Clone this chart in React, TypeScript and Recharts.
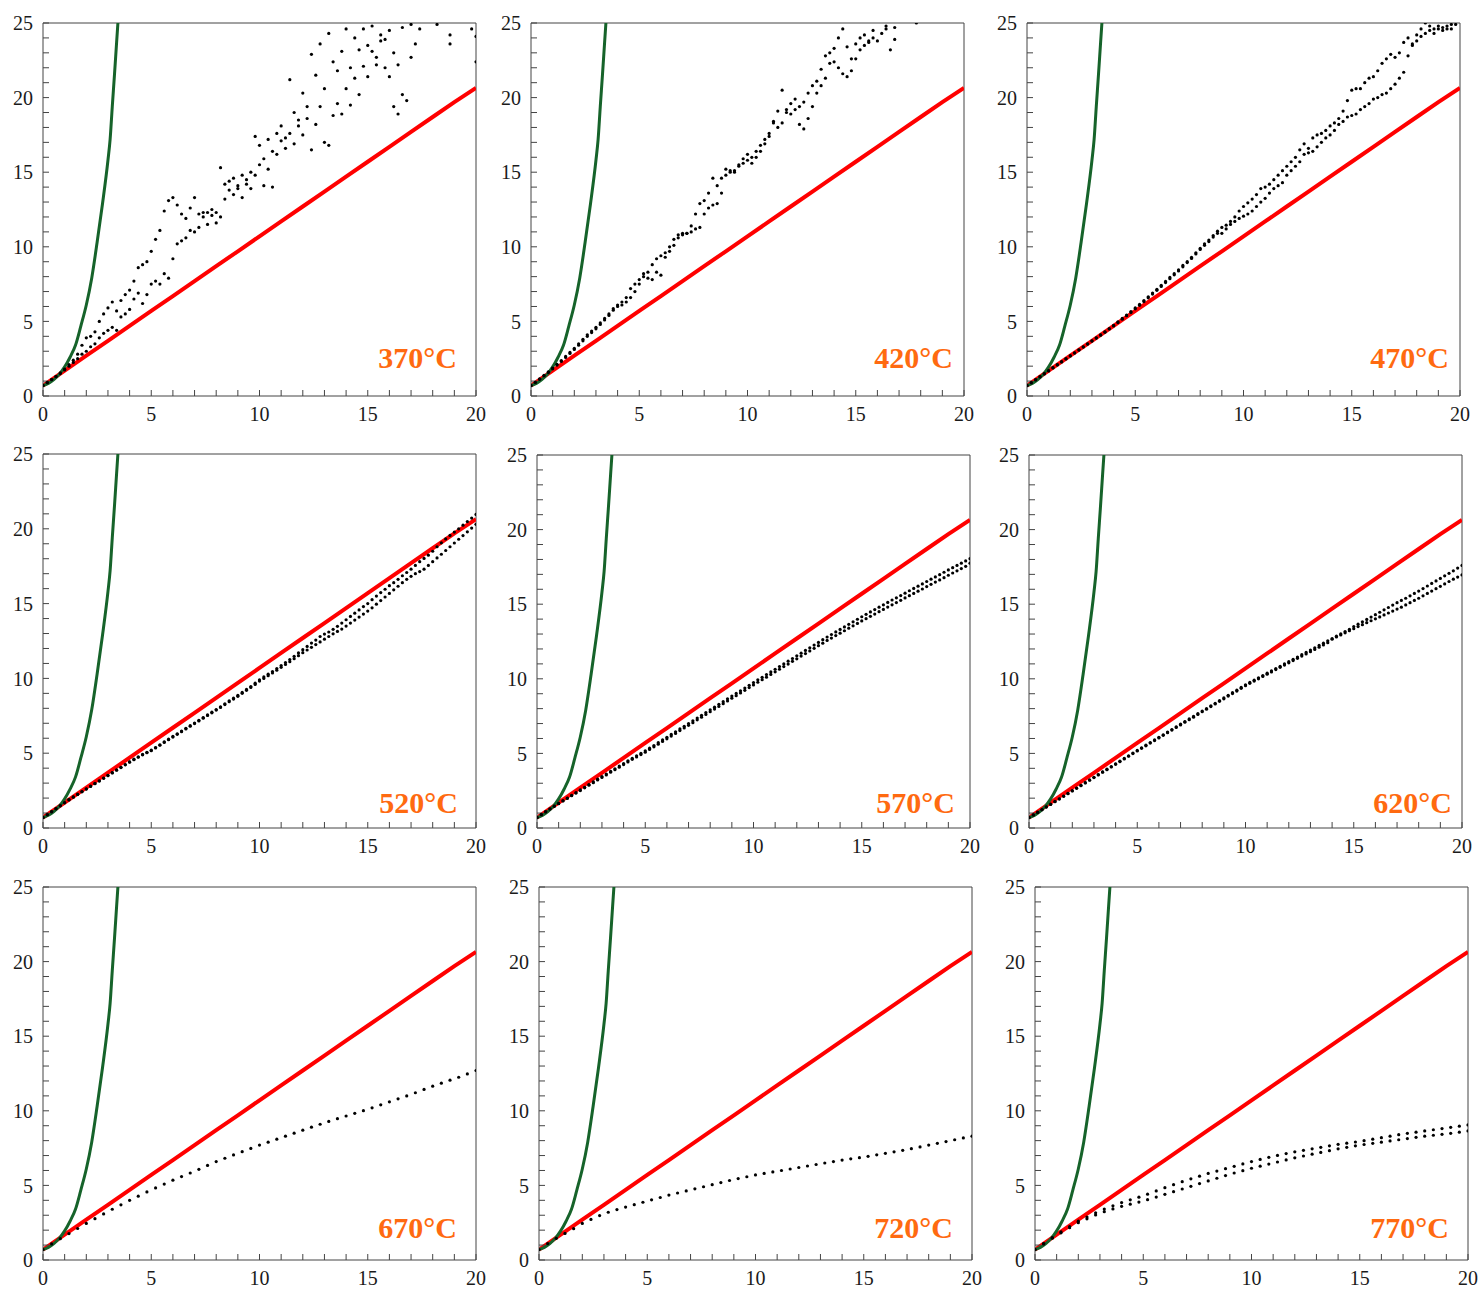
import React from "react";
import { ComposedChart, Scatter, Line, XAxis, YAxis, ReferenceLine } from "recharts";

// x grids of the measured series
const X_FINE = [
  0, 0.2, 0.4, 0.6, 0.8, 1, 1.2, 1.4, 1.6, 1.8, 2, 2.2, 2.4, 2.6, 2.8, 3, 3.2, 3.4, 3.6, 3.8,
  4, 4.2, 4.4, 4.6, 4.8, 5, 5.2, 5.4, 5.6, 5.8, 6, 6.2, 6.4, 6.6, 6.8, 7, 7.2, 7.4, 7.6, 7.8,
  8, 8.2, 8.4, 8.6, 8.8, 9, 9.2, 9.4, 9.6, 9.8, 10, 10.2, 10.4, 10.6, 10.8, 11, 11.2, 11.4, 11.6, 11.8,
  12, 12.2, 12.4, 12.6, 12.8, 13, 13.2, 13.4, 13.6, 13.8, 14, 14.2, 14.4, 14.6, 14.8, 15, 15.2, 15.4, 15.6, 15.8,
  16, 16.2, 16.4, 16.6, 16.8, 17, 17.2, 17.4, 17.6, 17.8, 18, 18.2, 18.4, 18.6, 18.8, 19, 19.2, 19.4, 19.6, 19.8,
  20,
];
const X_COARSE = [
  0, 0.4, 0.8, 1.2, 1.6, 2, 2.4, 2.8, 3.2, 3.6, 4, 4.4, 4.8, 5.2, 5.6, 6, 6.4, 6.8, 7.2, 7.6,
  8, 8.4, 8.8, 9.2, 9.6, 10, 10.4, 10.8, 11.2, 11.6, 12, 12.4, 12.8, 13.2, 13.6, 14, 14.4, 14.8, 15.2, 15.6,
  16, 16.4, 16.8, 17.2, 17.6, 18, 18.4, 18.8, 19.2, 19.6, 20,
];

// reference curves (same in every panel)
const RED_X = [0, 1, 2, 3, 4, 5, 6, 7, 8, 9, 10, 11, 12, 13, 14, 15, 16, 17, 18, 19, 20];
const RED_Y = [0.7, 1.7, 2.7, 3.7, 4.7, 5.7, 6.7, 7.7, 8.7, 9.7, 10.7, 11.7, 12.7, 13.7, 14.7, 15.7, 16.7, 17.7, 18.7, 19.7, 20.65];
const GREEN_X = [0, 0.25, 0.5, 0.75, 1, 1.25, 1.5, 1.75, 2, 2.25, 2.5, 2.75, 3, 3.1, 3.2, 3.3, 3.4, 3.46];
const GREEN_Y = [0.7, 0.85, 1.1, 1.45, 1.95, 2.6, 3.4, 4.7, 6.1, 7.9, 10.3, 12.9, 15.8, 17.2, 19.4, 21.5, 23.7, 25];

const X_TICKS = [0, 1, 2, 3, 4, 5, 6, 7, 8, 9, 10, 11, 12, 13, 14, 15, 16, 17, 18, 19, 20];
const Y_TICKS = [0, 1, 2, 3, 4, 5, 6, 7, 8, 9, 10, 11, 12, 13, 14, 15, 16, 17, 18, 19, 20, 21, 22, 23, 24, 25];

const LABELS = ["370°C", "420°C", "470°C", "520°C", "570°C", "620°C", "670°C", "720°C", "770°C"];

const T370_A = [
  0.7, 0.9, 1.1, 1.3, 1.55, 1.8, 2.1, 2.4, 2.8, 3.4,
  3.9, 4.0, 4.3, 5.0, 5.5, 5.9, 6.3, 5.7, 6.4, 6.8,
  7.1, 7.7, 8.6, 8.8, 9.0, 9.7, 10.5, 11.1, 12.4, 13.1,
  13.3, 12.8, 12.2, 11.9, 12.6, 13.3, 12.2, 12.0, 12.3, 12.5,
  11.6, 15.3, 14.2, 13.8, 14.6, 13.9, 14.8, 14.2, 15.0, 17.4,
  16.8, 15.9, 17.2, 16.4, 17.6, 18.1, 17.3, 21.2, 19.0, 18.5,
  20.3, 19.4, 22.9, 21.5, 23.6, 20.6, 24.3, 22.4, 21.8, 23.1,
  24.6, 22.0, 24.0, 23.2, 24.6, 23.5, 24.8, 22.7, 24.2, 23.9,
  24.5, 23.0, 22.2, 24.7, 25.5, 24.9, 25.8, 26.5, 26.0, 26.2,
  25.9, 24.9, 26.3, 26.0, 23.6, 26.2, 26.5, 25.4, 26.8, 26.1,
  24.1,
];
const T370_B = [
  0.7, 0.9, 1.1, 1.3, 1.5, 1.75, 2.0, 2.25, 2.5, 2.8,
  3.0, 3.3, 3.5, 3.9, 4.2, 4.4, 4.6, 4.4, 5.3, 5.5,
  5.8, 6.5, 6.9, 6.2, 6.8, 7.5, 7.7, 7.5, 8.2, 7.9,
  9.2, 10.2, 10.4, 10.6, 11.1, 11.0, 11.3, 12.3, 11.5, 12.1,
  12.3, 12.0, 13.2, 14.4, 13.5, 14.1, 13.3, 14.5, 13.9, 14.8,
  15.5, 14.1, 15.2, 14.0, 16.2, 17.1, 16.6, 17.6, 16.9, 18.1,
  17.5, 18.6, 16.5, 18.2, 19.4, 17.0, 16.8, 18.8, 19.6, 18.9,
  20.6, 19.5, 21.3, 20.2, 22.1, 21.4, 23.1, 22.2, 23.8, 22.0,
  21.4, 19.4, 18.9, 20.2, 19.8, 22.7, 23.6, 24.6, 25.6, 26.0,
  26.4, 25.7, 26.1, 25.5, 24.2, 25.8, 26.3, 25.6, 26.0, 24.6,
  22.4,
];
const T420_A = [
  0.7, 0.92, 1.15, 1.38, 1.62, 1.87, 2.12, 2.38, 2.65, 2.92,
  3.2, 3.5, 3.8, 4.1, 4.35, 4.6, 4.9, 5.2, 5.5, 5.85,
  6.1, 6.3, 6.6, 7.2, 7.5, 7.8, 8.2, 8.3, 8.8, 9.2,
  9.4, 9.6, 10.0, 10.5, 10.8, 10.9, 10.9, 11.4, 12.2, 12.9,
  13.1, 13.6, 14.6, 14.1, 14.6, 15.2, 15.0, 15.1, 15.4, 15.9,
  16.2, 16.0, 16.4, 16.8, 17.2, 17.6, 18.4, 19.1, 20.5, 19.2,
  19.6, 19.9, 19.4, 19.7, 20.3, 20.8, 21.1, 21.9, 22.8, 23.0,
  23.3, 24.0, 24.6, 23.4, 22.6, 23.6, 24.0, 24.2, 23.8, 24.5,
  25.4, 25.8, 24.8, 25.6, 24.7, 26.0, 26.3, 25.7, 26.6, 25.0,
  26.8, 27.1, 27.0, 27.5, 27.3, 27.9, 27.6, 28.2, 28.0, 28.5,
  28.3,
];
const T420_B = [
  0.7, 0.9, 1.12, 1.35, 1.58, 1.82, 2.07, 2.32, 2.58, 2.85,
  3.12, 3.4, 3.7, 4.0, 4.25, 4.5, 4.8, 5.1, 5.4, 5.75,
  6.0, 6.1, 6.3, 6.6, 7.0, 7.5, 8.0, 7.9, 7.8, 8.3,
  8.1, 9.3, 9.7, 10.1, 10.6, 10.8, 10.9, 11.0, 11.2, 11.3,
  12.2, 12.6, 12.8, 12.9, 13.6, 14.8, 15.1, 15.0, 15.5, 15.6,
  15.8, 15.6, 16.0, 16.4, 16.9, 17.4, 18.3, 18.0, 18.3, 19.0,
  18.9, 19.2, 18.2, 17.9, 18.6, 19.4, 20.3, 20.8, 21.3, 22.3,
  22.4, 22.0, 21.6, 21.4, 21.8, 22.6, 23.2, 23.5, 23.7, 24.0,
  23.8, 24.3, 24.6, 23.2, 23.9, 25.5, 25.8, 26.0, 26.2, 26.5,
  26.6, 26.9, 27.0, 27.2, 27.5, 27.6, 27.8, 28.0, 28.2, 28.4,
  28.5,
];
const T470_A = [
  0.7, 0.9, 1.1, 1.3, 1.5, 1.7, 1.9, 2.1, 2.3, 2.5,
  2.7, 2.9, 3.1, 3.3, 3.5, 3.7, 3.9, 4.1, 4.3, 4.52,
  4.74, 4.97, 5.2, 5.43, 5.66, 5.9, 6.15, 6.4, 6.65, 6.9,
  7.15, 7.42, 7.68, 7.95, 8.2, 8.45, 8.75, 9.0, 9.3, 9.6,
  9.9, 10.2, 10.45, 10.75, 11.05, 11.3, 11.45, 11.7, 12.0, 12.4,
  12.7, 12.95, 13.2, 13.5, 13.9, 14.0, 14.2, 14.5, 14.8, 15.1,
  15.4, 15.7, 16.0, 16.5, 16.9, 16.6, 17.3, 17.5, 17.6, 17.8,
  18.1, 18.3, 18.6, 19.1, 19.8, 20.5, 20.6, 20.6, 21.0, 21.3,
  21.4, 21.8, 22.3, 22.6, 22.9, 22.7, 23.0, 23.7, 24.0, 23.6,
  24.2, 24.6, 25.0, 24.8, 24.6, 24.8, 24.5, 24.6, 24.9, 25.3,
  25.6,
];
const T470_B = [
  0.7, 0.88, 1.08, 1.28, 1.48, 1.68, 1.88, 2.08, 2.28, 2.48,
  2.68, 2.88, 3.08, 3.28, 3.48, 3.68, 3.88, 4.08, 4.28, 4.49,
  4.7, 4.92, 5.15, 5.38, 5.6, 5.84, 6.08, 6.33, 6.58, 6.83,
  7.08, 7.34, 7.6, 7.86, 8.12, 8.38, 8.66, 8.94, 9.22, 9.52,
  9.82, 10.1, 10.35, 10.65, 10.9, 10.9, 11.2, 11.5, 11.7, 11.9,
  12.05, 12.2, 12.4, 12.7, 13.0, 13.25, 13.6, 13.9, 14.1, 14.3,
  14.8, 15.1, 15.4, 15.7, 16.2, 16.3, 16.4, 16.7, 17.0, 17.3,
  17.5, 17.8, 18.2, 18.4, 18.7, 18.8, 18.9, 19.2, 19.4, 19.6,
  19.9, 20.0, 20.2, 20.3, 20.6, 20.9, 21.3, 21.7, 22.8, 23.5,
  23.8, 24.1, 24.3, 24.5, 24.3, 24.6, 24.7, 24.8, 24.6, 24.9,
  25.2,
];
const T520_A = [
  0.7, 0.9, 1.1, 1.3, 1.5, 1.7, 1.9, 2.08, 2.26, 2.44,
  2.62, 2.8, 2.98, 3.16, 3.34, 3.52, 3.7, 3.88, 4.06, 4.24,
  4.42, 4.6, 4.76, 4.92, 5.06, 5.2, 5.38, 5.56, 5.76, 5.94,
  6.12, 6.3, 6.48, 6.66, 6.84, 7.02, 7.2, 7.38, 7.56, 7.74,
  7.92, 8.1, 8.3, 8.5, 8.68, 8.86, 9.06, 9.26, 9.46, 9.68,
  9.9, 10.1, 10.28, 10.46, 10.66, 10.86, 11.06, 11.26, 11.48, 11.7,
  11.92, 12.14, 12.36, 12.56, 12.8, 12.96, 13.1, 13.28, 13.48, 13.7,
  13.92, 14.14, 14.36, 14.58, 14.8, 15.0, 15.26, 15.5, 15.74, 15.96,
  16.2, 16.4, 16.62, 16.86, 17.08, 17.3, 17.55, 17.8, 18.02, 18.24,
  18.5, 18.8, 19.06, 19.32, 19.56, 19.78, 20.0, 20.24, 20.48, 20.72,
  20.96,
];
const T520_B = [
  0.7, 0.88, 1.08, 1.28, 1.48, 1.68, 1.88, 2.06, 2.24, 2.42,
  2.6, 2.78, 2.96, 3.14, 3.32, 3.5, 3.68, 3.86, 4.04, 4.22,
  4.4, 4.57, 4.73, 4.89, 5.03, 5.17, 5.35, 5.53, 5.72, 5.9,
  6.08, 6.26, 6.44, 6.62, 6.8, 6.98, 7.16, 7.34, 7.52, 7.7,
  7.88, 8.06, 8.25, 8.44, 8.62, 8.8, 9.0, 9.2, 9.4, 9.6,
  9.82, 10.0, 10.18, 10.36, 10.55, 10.74, 10.93, 11.12, 11.32, 11.52,
  11.72, 11.9, 12.08, 12.26, 12.44, 12.62, 12.8, 12.98, 13.14, 13.3,
  13.5, 13.7, 13.9, 14.1, 14.3, 14.5, 14.72, 14.96, 15.2, 15.44,
  15.68, 15.92, 16.16, 16.4, 16.62, 16.82, 17.0, 17.14, 17.3, 17.55,
  17.8, 18.05, 18.3, 18.55, 18.8, 19.05, 19.3, 19.55, 19.8, 20.05,
  20.3,
];
const T570_A = [
  0.7, 0.9, 1.1, 1.29, 1.47, 1.65, 1.83, 2.01, 2.19, 2.37,
  2.55, 2.73, 2.91, 3.09, 3.27, 3.45, 3.62, 3.8, 3.97, 4.15,
  4.32, 4.5, 4.67, 4.84, 5.0, 5.17, 5.35, 5.53, 5.72, 5.9,
  6.08, 6.27, 6.45, 6.64, 6.82, 7.0, 7.18, 7.37, 7.55, 7.74,
  7.92, 8.1, 8.29, 8.47, 8.66, 8.84, 9.02, 9.2, 9.38, 9.56,
  9.75, 9.93, 10.1, 10.28, 10.46, 10.64, 10.82, 11.0, 11.18, 11.36,
  11.54, 11.72, 11.9, 12.08, 12.26, 12.44, 12.62, 12.8, 12.97, 13.14,
  13.31, 13.48, 13.65, 13.82, 13.99, 14.16, 14.32, 14.48, 14.64, 14.8,
  14.96, 15.12, 15.28, 15.43, 15.58, 15.74, 15.9, 16.06, 16.21, 16.36,
  16.52, 16.68, 16.83, 16.98, 17.14, 17.3, 17.45, 17.6, 17.75, 17.9,
  18.05,
];
const T570_B = [
  0.7, 0.89, 1.08, 1.27, 1.45, 1.63, 1.81, 1.98, 2.16, 2.34,
  2.51, 2.69, 2.87, 3.04, 3.22, 3.39, 3.56, 3.74, 3.91, 4.08,
  4.25, 4.43, 4.6, 4.76, 4.92, 5.08, 5.26, 5.44, 5.62, 5.8,
  5.98, 6.16, 6.34, 6.53, 6.71, 6.88, 7.06, 7.25, 7.43, 7.61,
  7.79, 7.97, 8.15, 8.33, 8.52, 8.7, 8.87, 9.05, 9.23, 9.41,
  9.59, 9.77, 9.94, 10.11, 10.29, 10.47, 10.64, 10.82, 10.99, 11.17,
  11.34, 11.52, 11.69, 11.87, 12.04, 12.22, 12.39, 12.57, 12.73, 12.9,
  13.06, 13.22, 13.39, 13.55, 13.71, 13.88, 14.03, 14.19, 14.34, 14.5,
  14.65, 14.81, 14.96, 15.11, 15.26, 15.42, 15.57, 15.72, 15.87, 16.02,
  16.18, 16.33, 16.48, 16.63, 16.78, 16.94, 17.09, 17.24, 17.39, 17.54,
  17.75,
];
const T620_A = [
  0.7, 0.88, 1.06, 1.24, 1.42, 1.6, 1.78, 1.96, 2.14, 2.32,
  2.5, 2.68, 2.86, 3.04, 3.22, 3.4, 3.58, 3.76, 3.94, 4.12,
  4.3, 4.48, 4.66, 4.84, 5.02, 5.2, 5.38, 5.55, 5.73, 5.9,
  6.08, 6.25, 6.43, 6.6, 6.78, 6.96, 7.13, 7.31, 7.48, 7.66,
  7.84, 8.01, 8.19, 8.36, 8.54, 8.72, 8.89, 9.07, 9.24, 9.42,
  9.6, 9.76, 9.91, 10.07, 10.22, 10.38, 10.53, 10.69, 10.84, 11.0,
  11.15, 11.31, 11.46, 11.62, 11.77, 11.93, 12.08, 12.24, 12.39, 12.55,
  12.7, 12.86, 13.01, 13.17, 13.32, 13.5, 13.66, 13.82, 13.98, 14.14,
  14.3, 14.46, 14.62, 14.78, 14.94, 15.1, 15.25, 15.4, 15.56, 15.72,
  15.88, 16.05, 16.22, 16.39, 16.56, 16.73, 16.9, 17.07, 17.24, 17.42,
  17.6,
];
const T620_B = [
  0.7, 0.87, 1.04, 1.22, 1.4, 1.58, 1.76, 1.94, 2.12, 2.3,
  2.48, 2.66, 2.84, 3.02, 3.2, 3.38, 3.56, 3.74, 3.91, 4.09,
  4.27, 4.45, 4.63, 4.81, 4.99, 5.16, 5.34, 5.51, 5.69, 5.86,
  6.04, 6.21, 6.39, 6.56, 6.74, 6.91, 7.09, 7.26, 7.43, 7.61,
  7.79, 7.96, 8.14, 8.31, 8.49, 8.66, 8.84, 9.01, 9.18, 9.36,
  9.54, 9.7, 9.85, 10.0, 10.16, 10.31, 10.46, 10.62, 10.77, 10.92,
  11.07, 11.22, 11.37, 11.52, 11.67, 11.82, 11.97, 12.12, 12.27, 12.42,
  12.65, 12.8, 12.94, 13.08, 13.22, 13.36, 13.5, 13.63, 13.76, 13.89,
  14.02, 14.15, 14.28, 14.41, 14.54, 14.67, 14.8, 14.95, 15.1, 15.25,
  15.4, 15.56, 15.72, 15.88, 16.04, 16.2, 16.36, 16.52, 16.68, 16.82,
  16.96,
];
const T670 = [
  0.7, 1.08, 1.43, 1.77, 2.11, 2.45, 2.77, 3.09, 3.4, 3.7,
  4.0, 4.28, 4.56, 4.83, 5.09, 5.35, 5.59, 5.83, 6.08, 6.34,
  6.6, 6.82, 7.04, 7.26, 7.48, 7.7, 7.9, 8.1, 8.3, 8.5,
  8.7, 8.9, 9.1, 9.29, 9.47, 9.65, 9.83, 10.01, 10.2, 10.4,
  10.6, 10.8, 11.0, 11.21, 11.43, 11.65, 11.85, 12.05, 12.25, 12.47,
  12.7,
];
const T720 = [
  0.7, 1.1, 1.45, 1.78, 2.1, 2.45, 2.72, 2.98, 3.2, 3.38,
  3.55, 3.71, 3.87, 4.03, 4.19, 4.35, 4.49, 4.63, 4.77, 4.91,
  5.05, 5.19, 5.33, 5.46, 5.58, 5.7, 5.8, 5.9, 6.0, 6.1,
  6.2, 6.3, 6.4, 6.5, 6.6, 6.7, 6.78, 6.86, 6.95, 7.05,
  7.15, 7.25, 7.35, 7.46, 7.58, 7.7, 7.82, 7.94, 8.06, 8.18,
  8.3,
];
const T770_A = [
  0.7, 1.1, 1.5, 1.88, 2.24, 2.6, 2.88, 3.16, 3.41, 3.63,
  3.85, 4.03, 4.21, 4.41, 4.63, 4.85, 5.05, 5.25, 5.44, 5.62,
  5.8, 5.96, 6.12, 6.28, 6.44, 6.6, 6.74, 6.88, 7.01, 7.13,
  7.25, 7.35, 7.45, 7.55, 7.65, 7.75, 7.83, 7.91, 8.0, 8.1,
  8.2, 8.3, 8.4, 8.49, 8.57, 8.65, 8.73, 8.81, 8.89, 8.97,
  9.05,
];
const T770_B = [
  0.7, 1.08, 1.46, 1.82, 2.16, 2.5, 2.76, 3.02, 3.24, 3.42,
  3.6, 3.74, 3.88, 4.04, 4.22, 4.4, 4.58, 4.76, 4.94, 5.12,
  5.3, 5.48, 5.66, 5.83, 5.99, 6.15, 6.29, 6.43, 6.57, 6.71,
  6.85, 6.97, 7.09, 7.21, 7.33, 7.45, 7.55, 7.65, 7.74, 7.82,
  7.9, 7.98, 8.06, 8.14, 8.22, 8.3, 8.36, 8.42, 8.49, 8.57,
  8.65,
];

const toPoints = (xs: number[], ys: number[]) => ys.map((y, i) => ({ x: xs[i], y }));

const redData = toPoints(RED_X, RED_Y);
const greenData = toPoints(GREEN_X, GREEN_Y);

// layout: plot rect [left, top, width, height] and label anchor [right, baseline]
const PANELS = [
  { label: LABELS[0], xs: X_FINE, series: [T370_A, T370_B], rect: [43, 23, 433, 373], at: [457, 368] },
  { label: LABELS[1], xs: X_FINE, series: [T420_A, T420_B], rect: [531, 23, 433, 373], at: [953, 368] },
  { label: LABELS[2], xs: X_FINE, series: [T470_A, T470_B], rect: [1027, 23, 433, 373], at: [1449, 368] },
  { label: LABELS[3], xs: X_FINE, series: [T520_A, T520_B], rect: [43, 454, 433, 374], at: [458, 813] },
  { label: LABELS[4], xs: X_FINE, series: [T570_A, T570_B], rect: [537, 455, 433, 373], at: [955, 813] },
  { label: LABELS[5], xs: X_FINE, series: [T620_A, T620_B], rect: [1029, 455, 433, 373], at: [1452, 813] },
  { label: LABELS[6], xs: X_COARSE, series: [T670], rect: [43, 887, 433, 373], at: [457, 1238] },
  { label: LABELS[7], xs: X_COARSE, series: [T720], rect: [539, 887, 433, 373], at: [953, 1238] },
  { label: LABELS[8], xs: X_COARSE, series: [T770_A, T770_B], rect: [1035, 887, 433, 373], at: [1449, 1238] },
];

const AXIS = "#444";
const FONT = "'Liberation Serif', 'Times New Roman', serif";
const ML = 44;
const MT = 12;
const MR = 22;
const MB = 36;

const fmt = (v: number) => (v % 5 === 0 ? String(v) : "");
const Dot = (props: any) => <circle cx={props.cx} cy={props.cy} r={1.6} fill="#000" />;

function Panel({ p }: { p: (typeof PANELS)[number] }) {
  const [L, T, W, H] = p.rect;
  const tickStyle = { fill: "#1a1a1a", fontSize: 20, fontFamily: FONT };
  return (
    <div style={{ position: "absolute", left: L - ML, top: T - MT }}>
      <ComposedChart
        width={W + ML + MR}
        height={H + MT + MB}
        margin={{ top: MT, right: MR, bottom: 0, left: 0 }}
      >
        <XAxis
          type="number"
          dataKey="x"
          domain={[0, 20]}
          ticks={X_TICKS}
          interval={0}
          allowDataOverflow
          height={MB}
          tickSize={-6}
          tickMargin={17}
          tickFormatter={fmt}
          stroke={AXIS}
          tick={tickStyle}
        />
        <YAxis
          type="number"
          dataKey="y"
          domain={[0, 25]}
          ticks={Y_TICKS}
          interval={0}
          allowDataOverflow
          width={ML}
          tickSize={-6}
          tickMargin={16}
          tickFormatter={fmt}
          stroke={AXIS}
          tick={tickStyle}
        />
        <ReferenceLine y={25} stroke={AXIS} />
        <ReferenceLine x={20} stroke={AXIS} />
        {p.series.map((ys, i) => (
          <Scatter key={i} data={toPoints(p.xs, ys)} shape={Dot} isAnimationActive={false} />
        ))}
        <Line
          data={redData}
          dataKey="y"
          type="linear"
          stroke="#ff0000"
          strokeWidth={4}
          dot={false}
          isAnimationActive={false}
        />
        <Line
          data={greenData}
          dataKey="y"
          type="monotone"
          stroke="#16632a"
          strokeWidth={3}
          dot={false}
          isAnimationActive={false}
        />
      </ComposedChart>
    </div>
  );
}

export default function App() {
  return (
    <div style={{ position: "absolute", left: 0, top: 0, width: 1481, height: 1290, background: "#fff" }}>
      {PANELS.map((p) => (
        <Panel key={p.label} p={p} />
      ))}
      <svg width={1481} height={1290} style={{ position: "absolute", left: 0, top: 0, pointerEvents: "none" }}>
        {PANELS.map((p) => (
          <text
            key={p.label}
            x={p.at[0]}
            y={p.at[1]}
            textAnchor="end"
            fill="#ff6a10"
            fontSize={30}
            fontWeight="bold"
            fontFamily={FONT}
          >
            {p.label}
          </text>
        ))}
      </svg>
    </div>
  );
}
